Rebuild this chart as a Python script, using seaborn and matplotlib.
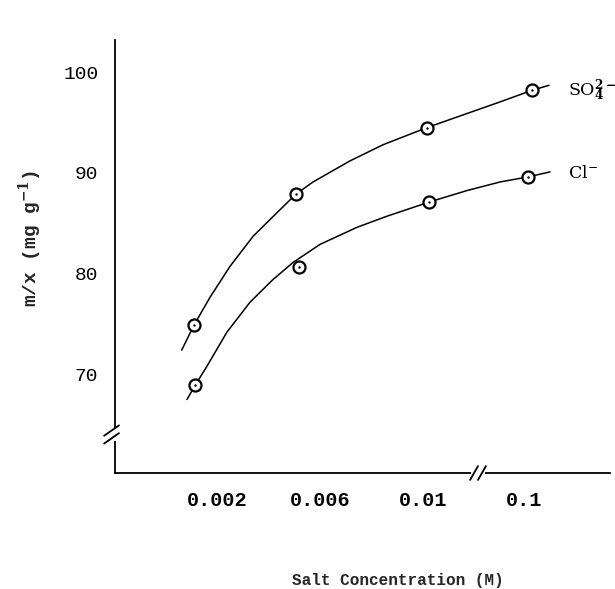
import numpy as np
import pandas as pd
import matplotlib
matplotlib.use("Agg")
import matplotlib.pyplot as plt
import seaborn as sns

# ---- data ----
so4_x = [0.00111, 0.00507, 0.01095, 0.1196]
so4_y = [74.9, 87.9, 94.5, 98.2]
cl_x = [0.00115, 0.00518, 0.01146, 0.109]
cl_y = [68.9, 80.7, 87.1, 89.6]

so4_curve_x = [0.00063, 0.00111, 0.00173, 0.00250, 0.00340, 0.00433, 0.00507,
               0.00573, 0.00717, 0.00845, 0.01095, 0.0273, 0.0579, 0.1196, 0.177]
so4_curve_y = [72.4, 74.9, 77.65, 80.7, 83.7, 86.05, 87.9,
               89.1, 91.2, 92.8, 94.5, 95.9, 97.05, 98.2, 98.7]
cl_curve_x = [0.000835, 0.00115, 0.00161, 0.00239, 0.00328, 0.00417, 0.00495,
              0.0060, 0.00744, 0.00860, 0.01146, 0.0273, 0.0579, 0.109, 0.181]
cl_curve_y = [67.5, 68.9, 70.8, 74.2, 77.15, 79.4, 81.1,
              82.9, 84.6, 85.7, 87.1, 88.25, 89.1, 89.6, 90.1]

x_ticks = [0.002, 0.006, 0.01, 0.1]
x_ticklabels = ["0.002", "0.006", "0.01", "0.1"]
y_ticks = [70, 80, 90, 100]

# ---- broken x scale: linear up to 0.01, compressed log beyond ----
K = 0.003922


def fwd(c):
    c = np.asarray(c, dtype=float)
    return np.where(c <= 0.01, c, 0.01 + K * np.log10(np.maximum(c, 0.01) / 0.01))


def inv(p):
    p = np.asarray(p, dtype=float)
    return np.where(p <= 0.01, p, 0.01 * 10 ** ((np.maximum(p, 0.01) - 0.01) / K))


sns.set_theme(style="white")
plt.rcParams["font.family"] = ["Liberation Mono", "DejaVu Sans Mono"]
plt.rcParams["mathtext.fontset"] = "dejavuserif"

fig = plt.figure(figsize=(6.15, 5.89), dpi=100)
ax = fig.add_axes([115 / 615, 1 - 473 / 589, (610 - 115) / 615, (473 - 40) / 589])
ax.set_xscale("function", functions=(fwd, inv))

curves = pd.DataFrame({
    "x": so4_curve_x + cl_curve_x,
    "y": so4_curve_y + cl_curve_y,
    "ion": ["SO4"] * len(so4_curve_x) + ["Cl"] * len(cl_curve_x),
})
points = pd.DataFrame({
    "x": so4_x + cl_x,
    "y": so4_y + cl_y,
    "ion": ["SO4"] * len(so4_x) + ["Cl"] * len(cl_x),
})

sns.lineplot(data=curves, x="x", y="y", units="ion", estimator=None, sort=False,
             color="black", linewidth=1.1, ax=ax, legend=False)
sns.scatterplot(data=points, x="x", y="y", marker="o", s=75, facecolor="white",
                edgecolor="black", linewidth=1.6, ax=ax, legend=False, zorder=3)
sns.scatterplot(data=points, x="x", y="y", marker="o", s=3, color="black",
                edgecolor="black", linewidth=0, ax=ax, legend=False, zorder=4)

ax.set_xlim(-0.00196, 0.711)
ax.set_ylim(60.2, 103.2)
ax.set_xticks(x_ticks)
ax.set_xticklabels(x_ticklabels)
ax.xaxis.set_minor_locator(matplotlib.ticker.NullLocator())
ax.set_yticks(y_ticks)
ax.set_xlabel("")
ax.set_ylabel("")

for s in ["top", "right"]:
    ax.spines[s].set_visible(False)
for s in ["left", "bottom"]:
    ax.spines[s].set_linewidth(1.3)
    ax.spines[s].set_color("black")

ax.tick_params(axis="both", direction="in", length=6, width=1.3, colors="black")
ax.tick_params(axis="x", pad=13, labelsize=14.5)
ax.tick_params(axis="y", pad=12, labelsize=14)
for lab in ax.get_xticklabels():
    lab.set_fontweight("bold")

# y-axis break: white gap + two slashes
ax.plot([0, 0], [0.078, 0.098], color="white", lw=3, transform=ax.transAxes,
        clip_on=False, zorder=4)
for yy in (0.080, 0.098):
    ax.plot([-0.022, 0.008], [yy - 0.012, yy + 0.012], color="black", lw=1.3,
            transform=ax.transAxes, clip_on=False, zorder=5)
# x-axis break
bx = (477 - 115) / (610 - 115)
ax.plot([bx - 0.008, bx + 0.012], [0, 0], color="white", lw=3,
        transform=ax.transAxes, clip_on=False, zorder=4)
for dx in (-0.006, 0.010):
    ax.plot([bx + dx - 0.008, bx + dx + 0.008], [-0.016, 0.016], color="black",
            lw=1.3, transform=ax.transAxes, clip_on=False, zorder=5)

# series labels
fig.text(568 / 615, 1 - 91 / 589, r"$\mathrm{SO}_{\mathbf{4}}^{\mathbf{2-}}$",
         fontsize=12.5, ha="left", va="center", color="black")
fig.text(568 / 615, 1 - 173 / 589, r"$\mathrm{Cl}^{-}$",
         fontsize=12.5, ha="left", va="center", color="black")

# axis labels
fig.text(30 / 615, 1 - 238 / 589, r"m/x (mg g$^{\mathbf{-1}}$)", rotation=90,
         fontsize=14, fontweight="bold", ha="center", va="center")
fig.text(398 / 615, 1 - 580 / 589, "Salt Concentration (M)",
         fontsize=11.5, fontweight="bold", ha="center", va="center")

fig.savefig("out.png", dpi=100, facecolor="white")
